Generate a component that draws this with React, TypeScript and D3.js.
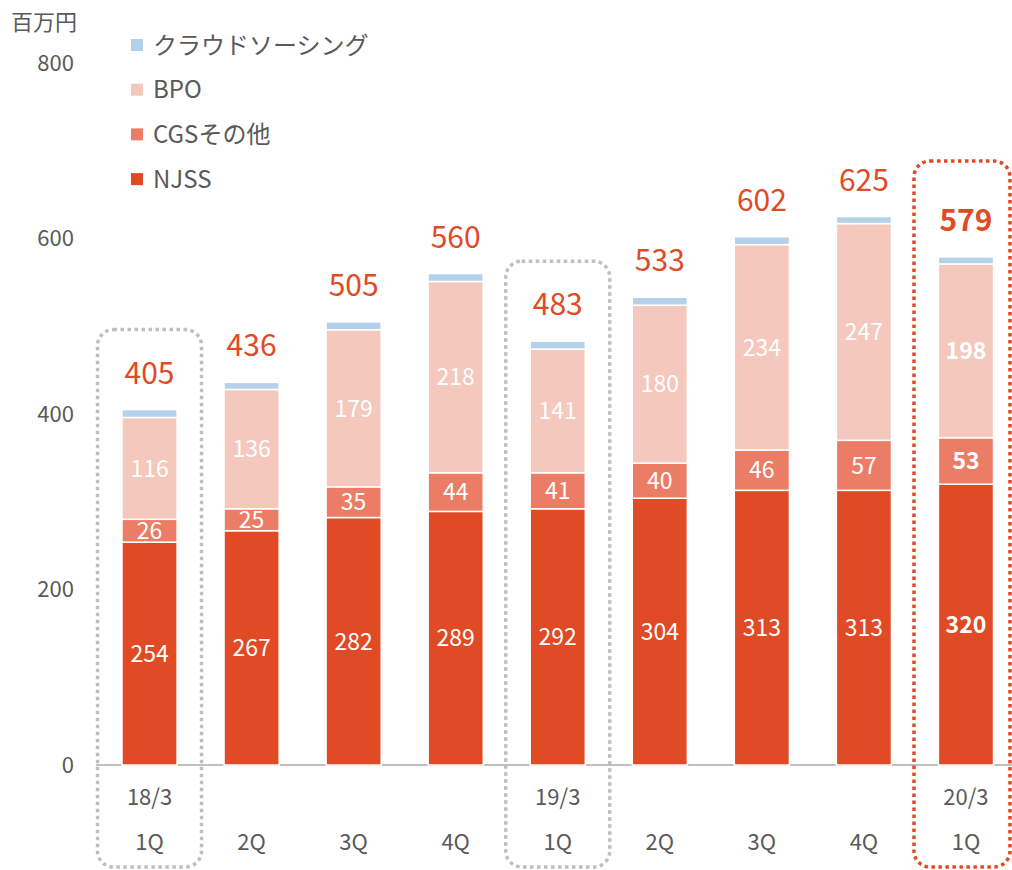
import React from "react";
import * as d3 from "d3";

const categories = ["18/3 1Q", "2Q", "3Q", "4Q", "19/3 1Q", "2Q ", "3Q ", "4Q ", "20/3 1Q"];
const yearLabels = ["18/3", "", "", "", "19/3", "", "", "", "20/3"];
const quarterLabels = ["1Q", "2Q", "3Q", "4Q", "1Q", "2Q", "3Q", "4Q", "1Q"];
const njss = [254, 267, 282, 289, 292, 304, 313, 313, 320];
const cgs = [26, 25, 35, 44, 41, 40, 46, 57, 53];
const bpo = [116, 136, 179, 218, 141, 180, 234, 247, 198];
const crowd = [9, 8, 9, 9, 9, 9, 9, 8, 8];
const totals = [405, 436, 505, 560, 483, 533, 602, 625, 579];
const yTicks = [0, 200, 400, 600, 800];
const seriesNames = ["クラウドソーシング", "BPO", "CGSその他", "NJSS"];
const seriesColors = ["#B4D1EB", "#F5C8BD", "#EB7D66", "#E04A24"];

const FONT = "'Noto Sans CJK JP', 'Noto Sans', sans-serif";

export default function App() {
  const W = 1012, H = 870;
  const x = d3.scaleBand<string>().domain(categories).range([98.5, 1017]).paddingInner(0.46).paddingOuter(0.23);
  const y = d3.scaleLinear().domain([0, 800]).range([765, 63]);
  const stackData = categories.map((c, i) => ({ c, njss: njss[i], cgs: cgs[i], bpo: bpo[i], crowd: crowd[i] }));
  const keys = ["njss", "cgs", "bpo", "crowd"];
  const colorByKey: Record<string, string> = { njss: "#E04A24", cgs: "#EB7D66", bpo: "#F5C8BD", crowd: "#B4D1EB" };
  const stacked = d3.stack<any>().keys(keys)(stackData);
  const bw = x.bandwidth();
  const last = categories.length - 1;

  const grayBoxes = [0, 4];
  return (
    <svg width={W} height={H} style={{ display: "block", position: "absolute", left: 0, top: 0 }} fontFamily={FONT}>
      <rect width={W} height={H} fill="#fff" />
      <text x={11} y={30} fontSize={22} fill="#595959">百万円</text>
      {yTicks.map((t) => (
        <text key={t} x={74} y={y(t)} dy="0.35em" textAnchor="end" fontSize={22} fill="#595959">{t}</text>
      ))}
      <line x1={96} x2={1012} y1={y(0)} y2={y(0)} stroke="#BFBFBF" strokeWidth={2} />
      {stacked.map((s) => (
        <g key={s.key}>
          {s.map((d, i) => {
            const cx = x(categories[i])!;
            const y0 = y(d[0]), y1 = y(d[1]);
            return (
              <rect key={i} x={cx} y={y1} width={bw} height={Math.max(0, y0 - y1)} fill={colorByKey[s.key]} stroke="#fff" strokeWidth={1.5} />
            );
          })}
        </g>
      ))}
      {stacked.filter((s) => s.key !== "crowd").map((s) => (
        <g key={"l" + s.key}>
          {s.map((d, i) => {
            const cx = x(categories[i])! + bw / 2;
            const cy = (y(d[0]) + y(d[1])) / 2;
            return (
              <text key={i} x={cx} y={cy} dy="0.36em" textAnchor="middle" fontSize={23} fill="#fff" fontWeight={i === last ? 700 : 400}>
                {d[1] - d[0]}
              </text>
            );
          })}
        </g>
      ))}
      {totals.map((t, i) => (
        <text key={i} x={x(categories[i])! + bw / 2} y={y(njss[i] + cgs[i] + bpo[i] + crowd[i]) - 26} textAnchor="middle" fontSize={30} fill="#E04A24" fontWeight={i === last ? 700 : 400}>
          {t}
        </text>
      ))}
      {categories.map((c, i) => (
        <g key={"x" + i}>
          <text x={x(c)! + bw / 2} y={797} dy="0.35em" textAnchor="middle" fontSize={22} fill="#595959">{yearLabels[i]}</text>
          <text x={x(c)! + bw / 2} y={842} dy="0.35em" textAnchor="middle" fontSize={22} fill="#595959">{quarterLabels[i]}</text>
        </g>
      ))}
      {grayBoxes.map((i) => {
        const cx = x(categories[i])! + bw / 2;
        const top = y(totals[i]) - 80;
        return (
          <rect key={"b" + i} x={cx - 52} y={top} width={104} height={867 - top} rx={16} fill="none" stroke="#BFBFBF" strokeWidth={3.5} strokeDasharray="3.5 3.5" />
        );
      })}
      <rect x={x(categories[last])! + bw / 2 - 52} y={161} width={96} height={706} rx={16} fill="none" stroke="#E04A24" strokeWidth={3.5} strokeDasharray="3.5 3.5" />
      {seriesNames.map((n, i) => (
        <g key={n}>
          <rect x={131} y={45 + i * 44.7 - 6} width={12} height={12} fill={seriesColors[i]} />
          <text x={153} y={45 + i * 44.7} dy="0.36em" fontSize={24} fill="#595959">{n}</text>
        </g>
      ))}
    </svg>
  );
}
